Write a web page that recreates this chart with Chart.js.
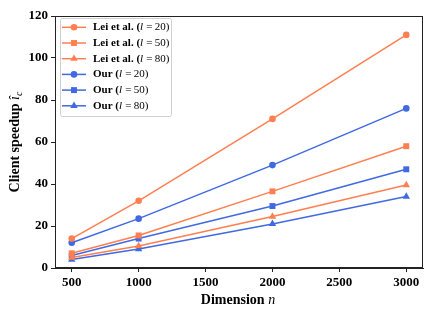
<!DOCTYPE html>
<html>
<head>
<meta charset="utf-8">
<script src="https://cdn.jsdelivr.net/npm/chart.js@4.4.1/dist/chart.umd.min.js"></script>
<style>
  html, body { margin: 0; padding: 0; background: #fff; }
  #wrap { width: 436px; height: 312px; }
</style>
</head>
<body>
<div id="wrap"><canvas id="myChart" width="436" height="312"></canvas></div>
<script>
// data
const dims = [500, 1000, 2000, 3000];
const leiL20 = [14, 32, 71, 111];
const leiL50 = [7, 15.5, 36.5, 58];
const leiL80 = [5, 10.5, 24.5, 39.5];
const ourL20 = [12, 23.5, 49, 76];
const ourL50 = [6, 14, 29.5, 47];
const ourL80 = [4, 9, 21, 34];
const yTicks = [0, 20, 40, 60, 80, 100, 120];
const xTicks = [500, 1000, 1500, 2000, 2500, 3000];

const orange = '#FF7F50';
const blue = '#4169E1';
const serif = '"Liberation Serif", "DejaVu Serif", serif';

function pts(ys) {
  return dims.map((d, i) => ({x: d, y: ys[i]}));
}

function series(prefix, l, ys, color, style) {
  return {
    label: prefix + ' (l = ' + l + ')',
    prefix: prefix,
    lval: l,
    data: pts(ys),
    borderColor: color,
    backgroundColor: color,
    borderWidth: 1.5,
    pointStyle: style,
    pointRadius: style === 'circle' ? 3.3 : (style === 'rect' ? 4.2 : 4.3),
    pointBorderWidth: 0,
    tension: 0
  };
}

// draws frame, axis titles and the legend box inside the plot
const extras = {
  id: 'extras',
  afterDraw(chart) {
    const ctx = chart.ctx;
    const a = chart.chartArea;
    ctx.save();
    ctx.strokeStyle = '#222';
    ctx.lineWidth = 1;
    ctx.strokeRect(a.left + 0.5, a.top + 0.5, a.right - a.left - 1, a.bottom - a.top - 1);

    // x title
    ctx.fillStyle = '#000';
    ctx.textBaseline = 'alphabetic';
    ctx.font = 'bold 14px ' + serif;
    const t1 = 'Dimension ';
    ctx.font = 'italic 14px ' + serif;
    const wn = ctx.measureText('n').width;
    ctx.font = 'bold 14px ' + serif;
    const w1 = ctx.measureText(t1).width;
    let x0 = 238 - (w1 + wn) / 2;
    ctx.textAlign = 'left';
    ctx.fillText(t1, x0, 304);
    ctx.font = 'italic 14px ' + serif;
    ctx.fillText('n', x0 + w1, 304);

    // y title (rotated)
    ctx.save();
    ctx.translate(19, 142);
    ctx.rotate(-Math.PI / 2);
    ctx.font = 'bold 14px ' + serif;
    const t2 = 'Client speedup ';
    const w2 = ctx.measureText(t2).width;
    ctx.font = 'italic 14px ' + serif;
    const wi = ctx.measureText('î').width;
    ctx.font = 'italic 10px ' + serif;
    const wc = ctx.measureText('c').width;
    let y0 = -(w2 + wi + wc) / 2;
    ctx.font = 'bold 14px ' + serif;
    ctx.fillText(t2, y0, 0);
    ctx.font = 'italic 14px ' + serif;
    ctx.fillText('î', y0 + w2, 0);
    ctx.font = 'italic 10px ' + serif;
    ctx.fillText('c', y0 + w2 + wi, 3);
    ctx.restore();

    // legend
    const lx = 60, ly = 18, lw = 111, lh = 98;
    ctx.fillStyle = 'rgba(255,255,255,0.85)';
    ctx.strokeStyle = '#d0d0d0';
    ctx.lineWidth = 1;
    ctx.beginPath();
    ctx.roundRect(lx + 0.5, ly + 0.5, lw, lh, 2);
    ctx.fill();
    ctx.stroke();
    chart.data.datasets.forEach((ds, i) => {
      const yy = 27.3 + i * 15.7;
      ctx.strokeStyle = ds.borderColor;
      ctx.lineWidth = 1.5;
      ctx.beginPath();
      ctx.moveTo(62, yy);
      ctx.lineTo(86, yy);
      ctx.stroke();
      ctx.fillStyle = ds.backgroundColor;
      Chart.helpers.drawPoint(ctx, {pointStyle: ds.pointStyle, radius: ds.pointRadius, borderWidth: 0}, 74, yy);
      ctx.fillStyle = '#000';
      ctx.textBaseline = 'middle';
      let tx = 93;
      ctx.font = 'bold 11px ' + serif;
      const p = ds.prefix + ' (';
      ctx.fillText(p, tx, yy);
      tx += ctx.measureText(p).width;
      ctx.font = 'italic 11px ' + serif;
      ctx.fillText('l', tx, yy);
      tx += ctx.measureText('l').width + 1;
      ctx.font = '11px ' + serif;
      const r = '\u2009=\u2009' + ds.lval + ')';
      ctx.fillText(r, tx, yy);
    });
    ctx.restore();
  }
};

new Chart(document.getElementById('myChart'), {
  type: 'line',
  data: {
    datasets: [
      series('Lei et al.', 20, leiL20, orange, 'circle'),
      series('Lei et al.', 50, leiL50, orange, 'rect'),
      series('Lei et al.', 80, leiL80, orange, 'triangle'),
      series('Our', 20, ourL20, blue, 'circle'),
      series('Our', 50, ourL50, blue, 'rect'),
      series('Our', 80, ourL80, blue, 'triangle')
    ]
  },
  options: {
    responsive: false,
    animation: false,
    layout: {padding: {top: 16, right: 13, left: 0, bottom: 0}},
    plugins: {
      legend: {display: false},
      tooltip: {enabled: false}
    },
    scales: {
      x: {
        type: 'linear',
        min: 375,
        max: 3125,
        afterBuildTicks(s) { s.ticks = xTicks.map(v => ({value: v})); },
        afterFit(s) { s.height = 44; },
        grid: {drawOnChartArea: false, drawTicks: true, tickLength: 4, color: '#222'},
        border: {color: '#222'},
        ticks: {color: '#000', padding: 3, maxRotation: 0, callback: v => String(v), font: {family: serif, size: 13, weight: 'bold'}}
      },
      y: {
        type: 'linear',
        min: 0,
        max: 120,
        afterBuildTicks(s) { s.ticks = yTicks.map(v => ({value: v})); },
        afterFit(s) { s.width = 55; },
        grid: {drawOnChartArea: false, drawTicks: true, tickLength: 4, color: '#222'},
        border: {color: '#222'},
        ticks: {color: '#000', padding: 3, callback: v => String(v), font: {family: serif, size: 13, weight: 'bold'}}
      }
    }
  },
  plugins: [extras]
});
</script>
</body>
</html>
